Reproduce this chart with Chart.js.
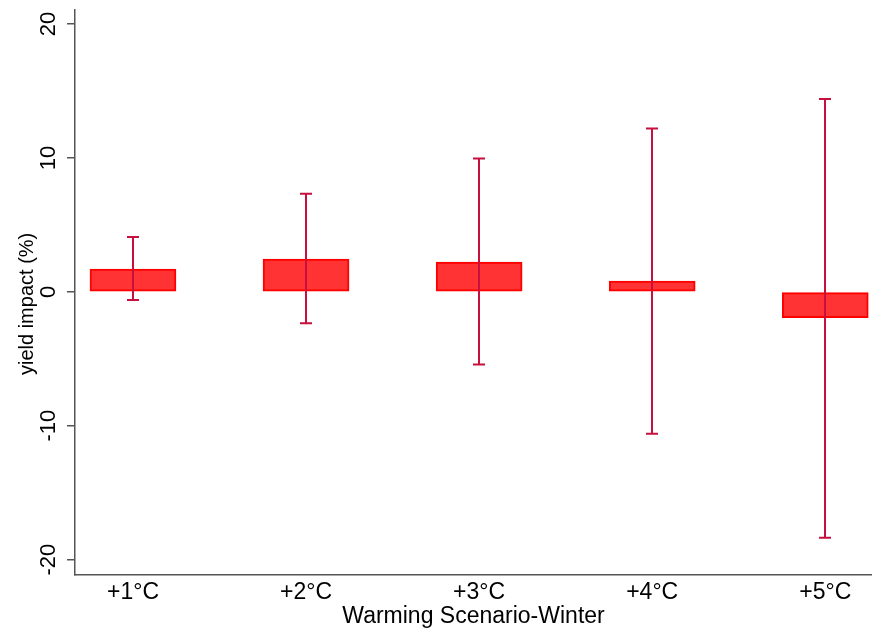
<!DOCTYPE html>
<html>
<head>
<meta charset="utf-8">
<script src="https://cdn.jsdelivr.net/npm/chart.js@4.4.1/dist/chart.umd.min.js"></script>
<style>
html,body{margin:0;padding:0;background:#fff;}
#wrap{width:872px;height:630px;position:relative;}
</style>
</head>
<body>
<div id="wrap"><canvas id="c" width="872" height="630"></canvas></div>
<script>
const categories = ["+1°C", "+2°C", "+3°C", "+4°C", "+5°C"];
const positions = [1, 2, 3, 4, 5];
const impact = [1.70, 2.45, 2.22, 0.81, -1.93];
const ciLow = [-0.61, -2.35, -5.43, -10.6, -18.37];
const ciHigh = [4.09, 7.33, 9.96, 12.2, 14.4];
const yTicks = [-20, -10, 0, 10, 20];
const yTitle = 'yield impact (%)';

const FONT = "'Liberation Sans', Arial, Helvetica, sans-serif";
const AXIS = '#555555';
const ERR = '#c8103e';

const errorBars = {
  id: 'errorBars',
  afterDatasetsDraw(chart) {
    const ctx = chart.ctx, xs = chart.scales.x, ys = chart.scales.y;
    ctx.save();
    ctx.strokeStyle = ERR;
    ctx.lineWidth = 2;
    positions.forEach((p, i) => {
      const x = Math.round(xs.getPixelForValue(p));
      const yl = ys.getPixelForValue(ciLow[i]);
      const yh = ys.getPixelForValue(ciHigh[i]);
      ctx.beginPath();
      ctx.moveTo(x, yl); ctx.lineTo(x, yh);
      ctx.moveTo(x - 6, yl); ctx.lineTo(x + 6, yl);
      ctx.moveTo(x - 6, yh); ctx.lineTo(x + 6, yh);
      ctx.stroke();
    });
    ctx.restore();
  }
};

const yLabels = {
  id: 'yLabels',
  afterDraw(chart) {
    const ctx = chart.ctx, ys = chart.scales.y;
    ctx.save();
    ctx.fillStyle = '#000';
    ctx.font = '22px ' + FONT;
    ctx.textAlign = 'center';
    ctx.textBaseline = 'alphabetic';
    yTicks.forEach(v => {
      const y = ys.getPixelForValue(v);
      ctx.save();
      ctx.translate(55, y);
      ctx.rotate(-Math.PI / 2);
      ctx.fillText(String(v), 0, 0);
      ctx.restore();
    });
    ctx.font = '20px ' + FONT;
    ctx.save();
    ctx.translate(33, ys.getPixelForValue(-0.9));
    ctx.rotate(-Math.PI / 2);
    ctx.fillText(yTitle, 0, 0);
    ctx.restore();
    ctx.restore();
  }
};

new Chart(document.getElementById('c'), {
  type: 'bar',
  data: {
    datasets: [{
      data: positions.map((p, i) => ({x: p, y: impact[i]})),
      backgroundColor: '#ff3333',
      borderColor: '#ff0000',
      borderWidth: 2,
      borderSkipped: false,
      barThickness: 86
    }]
  },
  options: {
    responsive: false,
    animation: false,
    layout: {padding: {top: 10, right: 0, left: 0, bottom: 0}},
    plugins: {legend: {display: false}, tooltip: {enabled: false}},
    scales: {
      x: {
        type: 'linear',
        offset: false,
        min: 0.665, max: 5.27,
        afterBuildTicks(s) { s.ticks = positions.map(v => ({value: v})); },
        afterFit(s) { s.height = 55; },
        grid: {display: false, offset: false},
        border: {display: true, color: AXIS, width: 1.5},
        ticks: {
          color: '#000',
          font: {family: FONT, size: 23, lineHeight: 0.85},
          padding: 0,
          maxRotation: 0,
          callback: (v) => categories[positions.indexOf(v)]
        },
        title: {
          display: true, text: 'Warming Scenario-Winter', color: '#000',
          font: {family: FONT, size: 23}, padding: {top: 0, bottom: 0}
        }
      },
      y: {
        min: -21.15, max: 21.05,
        afterBuildTicks(s) { s.ticks = yTicks.map(v => ({value: v})); },
        afterFit(s) { s.width = 75; },
        grid: {display: true, drawOnChartArea: false, drawTicks: true, tickLength: 8, color: AXIS, lineWidth: 1.5},
        border: {display: true, color: AXIS, width: 1.5},
        ticks: {display: false}
      }
    }
  },
  plugins: [errorBars, yLabels]
});
</script>
</body>
</html>
